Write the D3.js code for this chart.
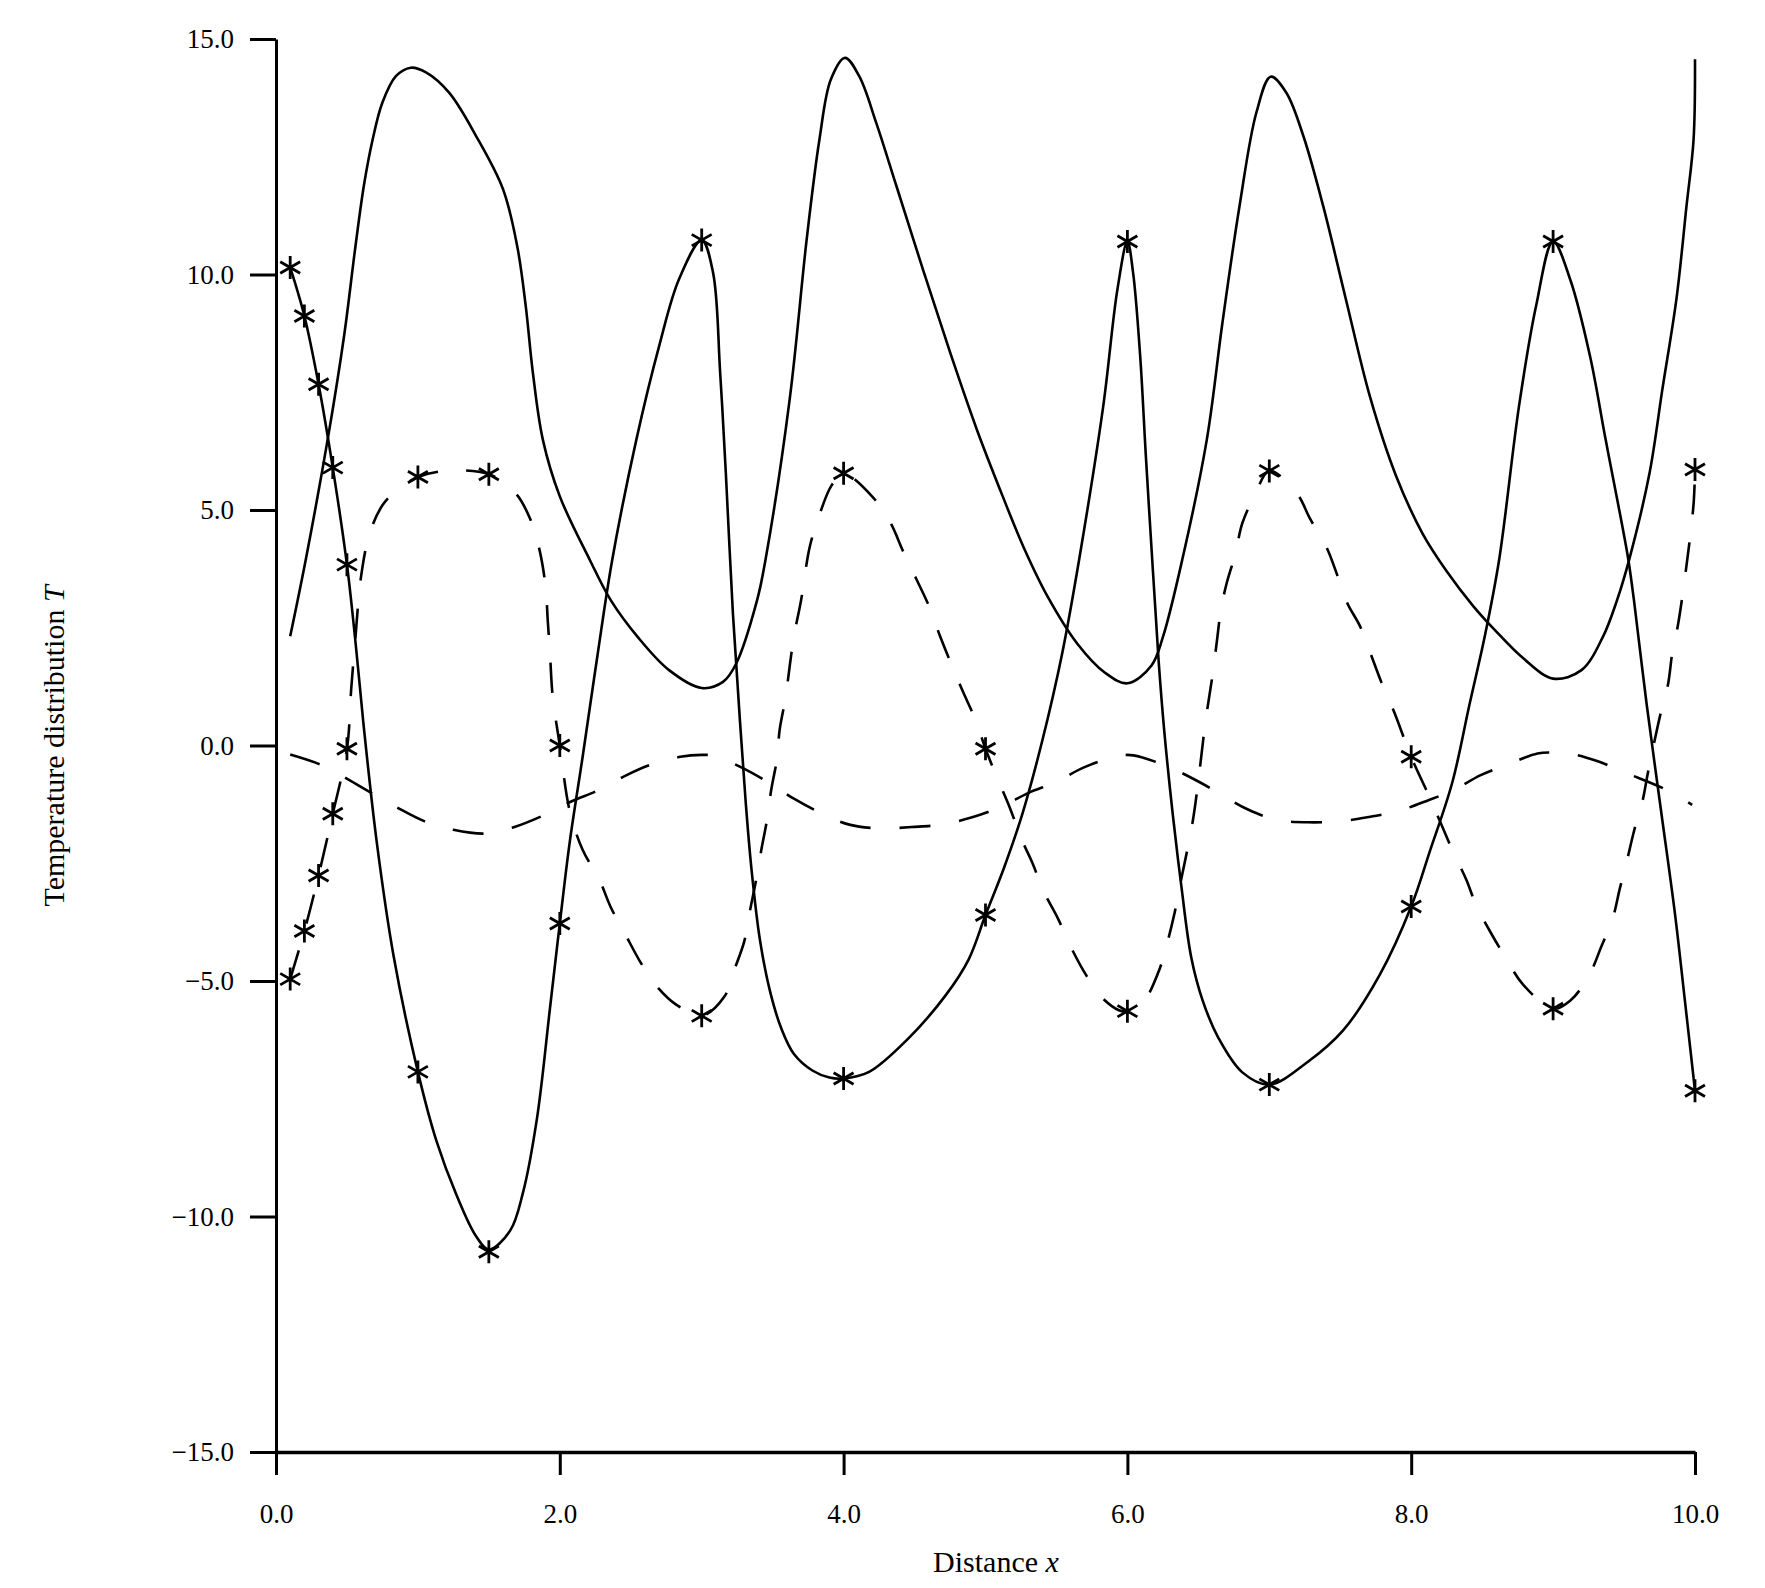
<!DOCTYPE html>
<html lang="en">

<head>
    <meta charset="UTF-8">
    <title>Temperature distribution</title>
    <style>
        body { margin: 0; background: #fff; }
        text { font-family: "Liberation Serif", "Times New Roman", serif; fill: #000; }
    </style>
</head>

<body>
    <script src="https://d3js.org/d3.v7.min.js"></script>
    <script>
        // tick values
        const xTicks = [0, 2, 4, 6, 8, 10];
        const yTicks = [-15, -10, -5, 0, 5, 10, 15];

        // solid curve with tall peaks (no markers)
        const peakCurve = [[0.1, 2.32], [0.21, 3.95], [0.37, 6.6], [0.48, 8.7], [0.56, 10.6], [0.62, 11.9],
            [0.68, 12.85], [0.75, 13.65], [0.845, 14.21], [0.95, 14.39], [1.057, 14.29], [1.22, 13.86], [1.41, 12.94],
            [1.6, 11.81], [1.7, 10.6], [1.76, 9.33], [1.81, 7.92], [1.88, 6.5], [2.0, 5.29], [2.21, 3.95], [2.36, 3.08],
            [2.55, 2.3], [2.77, 1.6], [3.0, 1.22], [3.15, 1.35], [3.24, 1.72], [3.39, 3.08], [3.45, 3.95], [3.62, 7.35],
            [3.74, 10.75], [3.83, 12.87], [3.91, 14.14], [4.01, 14.6], [4.11, 14.21], [4.23, 13.22], [4.37, 11.9],
            [4.56, 10.1], [4.75, 8.35], [4.94, 6.7], [5.12, 5.3], [5.27, 4.2], [5.44, 3.15], [5.65, 2.15],
            [5.84, 1.55], [6.0, 1.32], [6.17, 1.7], [6.25, 2.3], [6.39, 3.99], [6.56, 6.5], [6.67, 8.98], [6.79, 11.45],
            [6.91, 13.45], [7.01, 14.2], [7.12, 13.86], [7.24, 12.94], [7.38, 11.45], [7.54, 9.47], [7.71, 7.4],
            [7.89, 5.75], [8.08, 4.5], [8.25, 3.7], [8.44, 2.95], [8.59, 2.45], [8.79, 1.85], [9.0, 1.42], [9.2, 1.6],
            [9.35, 2.3], [9.45, 3.08], [9.54, 3.99], [9.68, 5.79], [9.77, 7.56], [9.87, 9.5], [9.94, 11.45],
            [9.99, 12.87], [10.0, 14.57]];

        // solid curve carrying the asterisks
        const solidStar = [[0.1, 10.15], [0.2, 9.12], [0.3, 7.67], [0.4, 5.9], [0.5, 3.84], [0.56, 2.2], [0.615, 0.5],
            [0.71, -2.05], [0.83, -4.49], [1.0, -6.93], [1.13, -8.39], [1.27, -9.53], [1.41, -10.42], [1.5, -10.7],
            [1.65, -10.3], [1.74, -9.5], [1.84, -7.9], [1.93, -5.6], [2.0, -3.78], [2.07, -2.05], [2.16, -0.26],
            [2.26, 1.8], [2.37, 3.95], [2.54, 6.5], [2.7, 8.48], [2.84, 9.9], [3.0, 10.73], [3.08, 10.04], [3.13, 7.92],
            [3.17, 5.79], [3.22, 2.8], [3.27, 0.5], [3.31, -1.2], [3.35, -2.6], [3.41, -4.12], [3.48, -5.2],
            [3.56, -6.0], [3.65, -6.55], [3.78, -6.9], [3.9, -7.05], [4.0, -7.07], [4.18, -6.93], [4.45, -6.24],
            [4.72, -5.3], [4.88, -4.55], [5.0, -3.6], [5.13, -2.6], [5.26, -1.45], [5.4, 0.1], [5.54, 1.95], [5.66, 3.95],
            [5.83, 7.21], [5.93, 9.69], [6.0, 10.7], [6.04, 10.04], [6.09, 8.27], [6.13, 6.15], [6.18, 3.7], [6.22, 1.8],
            [6.26, 0.3], [6.32, -1.47], [6.38, -2.98], [6.45, -4.5], [6.53, -5.41], [6.64, -6.2], [6.81, -6.94],
            [7.0, -7.2], [7.27, -6.72], [7.52, -6.05], [7.78, -4.86], [8.0, -3.42], [8.13, -2.26], [8.29, -0.78],
            [8.41, 0.86], [8.52, 2.34], [8.62, 3.95], [8.76, 7.21], [8.88, 9.33], [9.0, 10.7], [9.12, 9.9], [9.26, 8.27],
            [9.37, 6.5], [9.47, 4.94], [9.53, 3.95], [9.57, 3.08], [9.66, 0.86], [9.76, -1.37], [9.86, -3.6],
            [9.93, -5.45], [10.0, -7.33]];

        // dashed curve carrying the asterisks
        const dashStar = [[0.1, -4.96], [0.2, -3.94], [0.3, -2.76], [0.4, -1.45], [0.5, -0.07], [0.53, 1.2], [0.56, 2.3],
            [0.6, 3.6], [0.66, 4.5], [0.75, 5.1], [0.85, 5.42], [1.0, 5.7], [1.2, 5.83], [1.5, 5.76], [1.69, 5.35],
            [1.79, 4.82], [1.855, 4.18], [1.9, 3.37], [1.915, 2.66], [1.93, 2.0], [1.95, 1.04], [2.0, 0], [2.07, -1.39],
            [2.16, -2.21], [2.28, -2.86], [2.36, -3.44], [2.46, -4.0], [2.57, -4.61], [2.68, -5.1], [2.82, -5.5],
            [3.0, -5.74], [3.16, -5.33], [3.23, -4.76], [3.3, -4.16], [3.34, -3.51], [3.38, -2.91], [3.42, -2.22],
            [3.46, -1.58], [3.49, -0.94], [3.53, -0.29], [3.55, 0.35], [3.59, 1.0], [3.62, 1.68], [3.65, 2.32],
            [3.7, 3.08], [3.76, 4.2], [3.82, 4.81], [3.9, 5.44], [3.94, 5.62], [4.0, 5.78], [4.21, 5.26], [4.33, 4.73],
            [4.42, 4.12], [4.51, 3.55], [4.6, 2.97], [4.68, 2.32], [4.76, 1.72], [4.84, 1.15], [4.93, 0.54], [5.0, -0.07],
            [5.08, -0.67], [5.17, -1.31], [5.25, -1.96], [5.33, -2.49], [5.41, -3.1], [5.51, -3.67], [5.6, -4.27],
            [5.71, -4.88], [5.82, -5.35], [5.94, -5.62], [6.0, -5.64], [6.1, -5.5], [6.22, -4.8], [6.28, -4.2],
            [6.33, -3.59], [6.38, -2.83], [6.46, -1.62], [6.51, -0.5], [6.55, 0.5], [6.6, 1.5], [6.63, 2.2], [6.66, 2.9],
            [6.7, 3.45], [6.76, 4.06], [6.81, 4.72], [6.9, 5.33], [7.0, 5.83], [7.19, 5.37], [7.29, 4.8], [7.4, 4.23],
            [7.48, 3.61], [7.55, 3.02], [7.64, 2.53], [7.72, 1.9], [7.79, 1.34], [7.88, 0.71], [8.0, -0.24], [8.13, -1.1],
            [8.29, -2.22], [8.39, -2.86], [8.46, -3.41], [8.56, -3.97], [8.67, -4.53], [8.79, -5.08], [9.0, -5.59],
            [9.12, -5.42], [9.25, -4.9], [9.34, -4.27], [9.42, -3.67], [9.47, -3.04], [9.52, -2.45], [9.57, -1.82],
            [9.63, -1.18], [9.67, -0.55], [9.76, 0.71], [9.81, 1.3], [9.84, 1.97], [9.88, 2.56], [9.94, 3.82],
            [9.99, 5.13], [10.0, 5.86]];

        // small dashed wave near zero
        const dashWave = [[0.1, -0.19], [0.3, -0.39], [0.45, -0.62], [0.65, -0.97], [0.85, -1.31], [1.04, -1.6],
            [1.25, -1.79], [1.48, -1.87], [1.67, -1.74], [1.88, -1.49], [2.08, -1.19], [2.27, -0.95], [2.45, -0.66],
            [2.63, -0.42], [2.85, -0.24], [3.0, -0.2], [3.09, -0.22], [3.29, -0.48], [3.49, -0.82], [3.65, -1.13],
            [3.85, -1.45], [4.04, -1.68], [4.26, -1.76], [4.48, -1.73], [4.69, -1.68], [4.9, -1.53], [5.11, -1.3],
            [5.3, -1.01], [5.5, -0.77], [5.69, -0.47], [5.9, -0.25], [6.0, -0.2], [6.1, -0.25], [6.31, -0.48],
            [6.51, -0.78], [6.66, -1.04], [6.85, -1.36], [7.05, -1.58], [7.27, -1.63], [7.49, -1.61], [7.68, -1.53],
            [7.91, -1.39], [8.13, -1.15], [8.29, -0.96], [8.49, -0.63], [8.69, -0.39], [8.89, -0.17], [9.0, -0.15],
            [9.12, -0.17], [9.31, -0.33], [9.52, -0.59], [9.79, -0.93], [9.98, -1.26]];

        // asterisk markers
        const markX = [0.1, 0.2, 0.3, 0.4, 0.5, 1, 1.5, 2, 3, 4, 5, 6, 7, 8, 9, 10];
        const markSolid = [10.15, 9.12, 7.67, 5.9, 3.84, -6.93, -10.75, -3.78, 10.73, -7.07, -3.6, 10.7, -7.2, -3.42, 10.7, -7.33];
        const markDash = [-4.96, -3.94, -2.76, -1.45, -0.07, 5.7, 5.76, 0, -5.74, 5.78, -0.07, -5.64, 5.83, -0.24, -5.59, 5.86];

        const width = 1765;
        const height = 1588;
        const plotLeft = 276, plotRight = 1695, plotTop = 39, plotBottom = 1452;

        var x = d3.scaleLinear().domain([0, 10]).range([plotLeft, plotRight]);
        var y = d3.scaleLinear().domain([-15, 15]).range([plotBottom, plotTop]);

        var svg = d3.select("body")
            .append("svg")
            .attr("width", width)
            .attr("height", height);

        svg.append("rect").attr("width", width).attr("height", height).attr("fill", "#fff");

        var fmt = d3.format(".1f");

        // y axis
        var yAxis = d3.axisLeft(y).tickValues(yTicks).tickFormat(fmt).tickSize(26).tickSizeOuter(0).tickPadding(16);
        var gy = svg.append("g").attr("transform", "translate(" + plotLeft + ",0)").call(yAxis);
        gy.select(".domain").attr("stroke-width", 3);
        gy.selectAll(".tick line").attr("stroke-width", 3);
        gy.selectAll("text").style("font-size", "27px").attr("font-family", null);

        // x axis
        var xAxis = d3.axisBottom(x).tickValues(xTicks).tickFormat(fmt).tickSize(23).tickSizeOuter(0).tickPadding(29);
        var gx = svg.append("g").attr("transform", "translate(0," + plotBottom + ")").call(xAxis);
        gx.select(".domain").attr("stroke-width", 3.5);
        gx.selectAll(".tick line").attr("stroke-width", 3);
        gx.selectAll("text").style("font-size", "27px").attr("font-family", null);

        // axis titles
        var xt = svg.append("text")
            .attr("x", 996).attr("y", 1572)
            .attr("text-anchor", "middle")
            .style("font-size", "30px")
            .text("Distance ");
        xt.append("tspan").style("font-style", "italic").text("x");

        var yt = svg.append("text")
            .attr("transform", "translate(64,746) rotate(-90)")
            .attr("text-anchor", "middle")
            .style("font-size", "30px")
            .text("Temperature distribution ");
        yt.append("tspan").style("font-style", "italic").text("T");

        var line = d3.line()
            .x(function(d) { return x(d[0]); })
            .y(function(d) { return y(d[1]); })
            .curve(d3.curveCatmullRom.alpha(0.5));

        svg.append("path").datum(peakCurve)
            .attr("d", line).attr("fill", "none").attr("stroke", "#000").attr("stroke-width", 2.6);
        svg.append("path").datum(solidStar)
            .attr("d", line).attr("fill", "none").attr("stroke", "#000").attr("stroke-width", 2.6);
        svg.append("path").datum(dashStar)
            .attr("d", line).attr("fill", "none").attr("stroke", "#000").attr("stroke-width", 2.6)
            .attr("stroke-dasharray", "30,28");
        svg.append("path").datum(dashWave)
            .attr("d", line).attr("fill", "none").attr("stroke", "#000").attr("stroke-width", 2.6)
            .attr("stroke-dasharray", "31,29");

        function asterisk(r) {
            var t = r / 2, u = t * Math.sqrt(3);
            return "M0," + r + "L0," + (-r) + "M" + (-u) + "," + (-t) + "L" + u + "," + t +
                "M" + (-u) + "," + t + "L" + u + "," + (-t);
        }

        var marks = [];
        markX.forEach(function(v, i) {
            marks.push([v, markSolid[i]]);
            marks.push([v, markDash[i]]);
        });

        svg.append("g").selectAll("path")
            .data(marks)
            .enter()
            .append("path")
            .attr("transform", function(d) { return "translate(" + x(d[0]) + "," + y(d[1]) + ")"; })
            .attr("d", asterisk(11.5))
            .attr("fill", "none")
            .attr("stroke", "#000")
            .attr("stroke-width", 2.8);
    </script>
</body>

</html>
